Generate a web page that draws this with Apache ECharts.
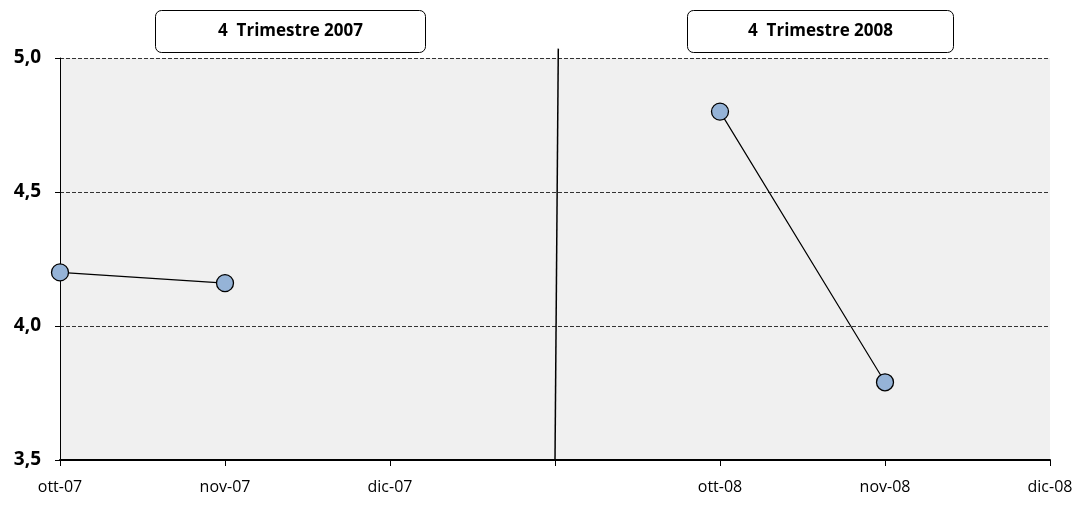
<!DOCTYPE html>
<html><head><meta charset="utf-8">
<script src="https://cdn.jsdelivr.net/npm/echarts@6/dist/echarts.min.js"></script>
<style>html,body{margin:0;padding:0;background:#fff}#c{width:1081px;height:509px}</style>
</head><body><div id="c"></div>
<script>
const categories = ['ott-07','nov-07','dic-07','','ott-08','nov-08','dic-08'];
const values = [4.2, 4.16, null, null, 4.8, 3.79, null];
const yTicks = [3.5, 4.0, 4.5, 5.0];
const periodLabels = ['4  Trimestre 2007', '4  Trimestre 2008'];
const dividerX = [3.02, 3.0];
const dividerY = [5.035, 3.5];

const chart = echarts.init(document.getElementById('c'), null, {renderer:'canvas'});
const font = "'Open Sans', 'Liberation Sans', sans-serif";
chart.setOption({
  animation: false,
  grid: {left: 60, right: 31, top: 58, bottom: 49, show: true, backgroundColor: '#f0f0f0', borderWidth: 0},
  xAxis: [{
    type: 'category', data: categories, boundaryGap: false,
    axisLine: {show: true, lineStyle: {color: '#000', width: 2}},
    axisTick: {show: true, length: 6, lineStyle: {color: '#000', width: 1}},
    axisLabel: {color: '#000', fontSize: 16, fontFamily: font, margin: 19, interval: 0},
    splitLine: {show: false}
  }, {
    type: 'value', min: 0, max: 6, show: false
  }],
  yAxis: {
    type: 'value', min: yTicks[0], max: yTicks[yTicks.length-1], interval: 0.5,
    axisLine: {show: true, lineStyle: {color: '#000', width: 1}},
    axisTick: {show: true, length: 5, lineStyle: {color: '#000'}},
    axisLabel: {color: '#000', fontSize: 19, fontWeight: 'bold', fontFamily: font, margin: 19,
      formatter: v => v.toFixed(1).replace('.', ',')},
    splitLine: {show: true, lineStyle: {color: '#333', type: [4, 2], width: 1}}
  },
  series: [{
    type: 'line', data: values, connectNulls: false,
    symbol: 'circle', symbolSize: 17,
    lineStyle: {color: '#000', width: 1.2},
    itemStyle: {color: '#95b3d7', borderColor: '#000', borderWidth: 1.3}
  }, {
    type: 'line', xAxisIndex: 1, symbol: 'none', clip: false,
    data: dividerX.map((x, i) => [x, dividerY[i]]),
    lineStyle: {color: '#000', width: 1.5}, z: 5
  }],
  graphic: [
    {type: 'group', left: 155, top: 10, children: [
      {type: 'rect', shape: {x: 0, y: 0, width: 270, height: 42, r: 6}, style: {fill: '#fff', stroke: '#000', lineWidth: 1}},
      {type: 'text', x: 135, y: 21, style: {text: periodLabels[0], align: 'center', verticalAlign: 'middle', font: "bold 17px 'Open Sans', sans-serif", fill: '#000'}}
    ]},
    {type: 'group', left: 687, top: 10, children: [
      {type: 'rect', shape: {x: 0, y: 0, width: 266, height: 42, r: 6}, style: {fill: '#fff', stroke: '#000', lineWidth: 1}},
      {type: 'text', x: 133, y: 21, style: {text: periodLabels[1], align: 'center', verticalAlign: 'middle', font: "bold 17px 'Open Sans', sans-serif", fill: '#000'}}
    ]}
  ]
});
</script></body></html>
